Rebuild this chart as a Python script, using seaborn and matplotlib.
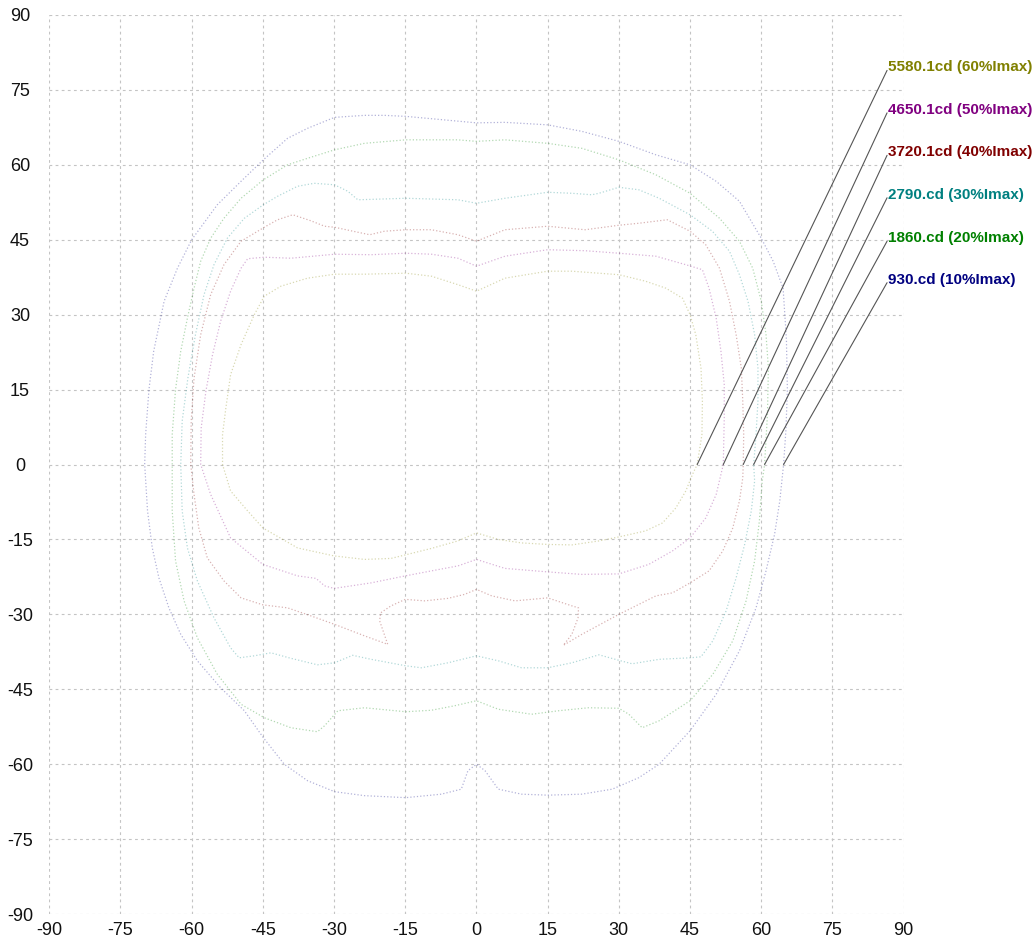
import numpy as np
import pandas as pd
import matplotlib
matplotlib.use('Agg')
import matplotlib.pyplot as plt
import seaborn as sns

# isocandela contours, traced counter-clockwise from the right-hand crossing of y=0
x_60 = [46.5, 47.5, 47.6, 47.3, 46.2, 45.0, 43.4, 39.9, 35.6, 30.0, 20.1, 15.0, 6.0, 0.0,
        -3.9, -9.5, -14.9, -23.6, -29.9, -35.6, -41.2, -44.7, -46.8, -49.6, -51.8, -52.8, -53.5, -53.5,
        -51.8, -48.2, -45.0, -37.7, -30.0, -23.6, -18.0, -15.0, -9.5, -3.9, 0.0,
        4.6, 9.5, 15.0, 20.1, 25.8, 30.0, 35.6, 39.2, 42.0, 44.1, 45.5]
y_60 = [0.0, 6.0, 12.7, 19.3, 26.0, 30.0, 33.3, 35.3, 36.7, 38.0, 38.7, 38.7, 37.3, 34.7,
        36.0, 37.7, 38.3, 38.1, 38.1, 37.3, 35.7, 33.7, 30.0, 24.0, 18.0, 11.3, 6.0, 0.0,
        -5.3, -9.3, -12.7, -16.7, -18.3, -19.0, -18.8, -18.1, -16.8, -15.3, -13.7,
        -15.0, -15.7, -16.0, -16.1, -15.3, -14.5, -13.3, -11.7, -8.7, -5.3, -2.0]

x_50 = [52.0, 52.2, 52.2, 51.5, 50.5, 49.0, 47.6, 44.1, 37.8, 30.0, 22.9, 15.0, 6.0, 0.0,
        -3.9, -9.5, -14.9, -22.2, -29.9, -39.1, -44.7, -48.2, -49.6, -51.8, -53.9, -55.6, -57.0, -58.0, -58.1,
        -56.0, -51.8, -45.0, -37.7, -33.8, -32.0, -30.0, -26.4, -22.2, -15.0, -9.5, -3.9, 0.0,
        6.0, 15.0, 22.2, 30.0, 36.3, 41.3, 45.0, 48.3, 50.5, 51.5]
y_50 = [0.0, 9.3, 16.0, 22.7, 29.3, 35.3, 39.0, 40.0, 41.7, 42.3, 42.8, 43.0, 41.7, 39.7,
        41.3, 42.1, 42.3, 42.0, 42.1, 41.3, 41.5, 41.2, 39.3, 34.7, 28.7, 22.0, 14.7, 7.3, 0.0,
        -6.0, -14.7, -20.0, -22.3, -22.8, -24.3, -24.8, -24.3, -23.7, -22.3, -21.3, -20.3, -19.0,
        -20.8, -21.5, -22.0, -21.9, -20.0, -17.3, -14.7, -10.7, -6.0, -2.0]

x_40 = [56.2, 56.3, 56.1, 55.8, 54.7, 53.3, 51.2, 48.3, 45.0, 40.2, 34.2, 30.0, 22.9, 15.0, 6.0, 0.0,
        -3.9, -9.5, -14.9, -19.4, -22.5, -25.0, -29.9, -32.0, -34.9, -38.7, -41.9, -44.7, -49.6, -53.2,
        -56.0, -58.1, -59.5, -60.1, -60.2,
        -59.5, -58.5, -56.7, -53.2, -49.6, -45.0, -39.8, -34.9, -29.9, -23.6, -18.7, -20.4, -20.2,
        -18.0, -15.0, -10.9, -6.0, -2.5, 0.0,
        3.2, 8.1, 15.0, 20.1, 21.5, 21.4, 20.1, 18.3, 22.2, 30.0, 37.8, 41.3, 45.0, 49.0, 51.9,
        54.0, 55.4, 56.1]
y_40 = [0.0, 6.0, 12.7, 19.3, 26.0, 32.7, 39.3, 44.0, 46.7, 49.0, 48.3, 47.9, 47.0, 47.7, 47.0, 44.7,
        46.0, 47.0, 47.0, 46.7, 46.0, 46.5, 47.5, 47.7, 48.8, 50.0, 49.0, 47.5, 44.7, 40.0,
        34.0, 26.0, 17.3, 8.7, 0.0,
        -6.0, -12.7, -18.7, -23.3, -26.7, -28.1, -28.7, -30.3, -32.0, -34.3, -36.0, -31.3, -29.7,
        -28.3, -27.0, -27.3, -26.8, -26.0, -25.0,
        -26.3, -27.3, -26.7, -28.3, -28.7, -30.7, -34.0, -36.2, -34.0, -30.0, -26.3, -25.7, -23.7, -21.3, -17.3,
        -12.7, -7.3, -2.7]

x_30 = [58.4, 58.9, 59.3, 59.3, 58.6, 57.2, 55.4, 53.3, 49.7, 45.0, 38.5, 34.2, 30.0, 25.8, 24.3, 20.1,
        15.0, 6.0, 0.0,
        -3.9, -14.9, -25.0, -27.1, -29.9, -34.2, -37.7, -41.9, -44.9, -48.9, -52.5, -55.3, -57.4, -59.2,
        -60.8, -62.0, -62.3,
        -62.0, -60.9, -58.8, -55.3, -51.8, -50.0, -46.8, -43.3, -39.1, -33.5, -29.9, -26.1, -22.2, -14.9,
        -11.6, -6.0, 0.0,
        4.6, 9.5, 15.0, 20.1, 25.8, 30.0, 32.8, 38.5, 45.0, 47.3, 49.8, 52.6, 54.7, 56.5, 57.9, 58.6]
y_30 = [0.0, 6.0, 12.7, 19.3, 26.0, 32.7, 38.0, 42.7, 46.7, 50.0, 53.3, 55.0, 55.5, 54.3, 54.0, 54.3,
        54.5, 53.3, 52.3,
        53.0, 53.3, 53.0, 54.7, 56.0, 56.3, 55.7, 53.7, 52.0, 49.3, 45.3, 40.0, 34.0, 26.0,
        17.3, 8.7, 0.0,
        -9.3, -16.7, -23.3, -30.7, -36.7, -38.7, -38.3, -37.7, -38.8, -40.1, -39.7, -38.2, -39.0, -40.3,
        -40.7, -39.7, -38.3,
        -39.3, -40.7, -40.7, -39.7, -38.1, -39.2, -39.9, -39.0, -38.7, -38.5, -35.3, -29.3, -22.7, -16.0, -9.3, -3.3]

x_20 = [60.7, 61.3, 61.5, 61.0, 60.0, 58.2, 55.4, 51.2, 45.0, 37.8, 30.0, 22.2, 15.0, 6.0, 0.0,
        -4.0, -14.9, -23.6, -29.9, -35.6, -39.8, -44.9, -49.6, -53.2, -56.0, -58.1, -59.5, -60.9, -62.3,
        -63.4, -64.1, -64.1,
        -64.1, -63.4, -61.6, -58.8, -54.6, -49.6, -44.7, -39.1, -33.5, -32.0, -29.2, -23.6, -14.9, -9.5,
        -4.6, 0.0,
        4.6, 11.6, 17.3, 23.6, 30.0, 32.1, 34.9, 38.5, 45.0, 49.8, 54.0, 56.8, 58.6, 59.6, 60.2]
y_20 = [0.0, 10.0, 19.3, 26.0, 32.7, 39.3, 44.7, 49.3, 54.3, 58.0, 61.0, 63.3, 64.3, 65.0, 64.7,
        65.0, 65.0, 64.3, 63.0, 61.3, 60.0, 57.0, 53.3, 49.3, 45.3, 40.7, 35.3, 29.3, 22.7,
        15.0, 6.0, 0.0,
        -9.3, -19.3, -27.3, -34.7, -42.0, -48.0, -50.7, -52.7, -53.5, -52.3, -49.3, -48.7, -49.5, -49.2,
        -48.3, -47.3,
        -49.0, -50.0, -49.3, -48.7, -48.8, -50.0, -52.7, -51.3, -47.3, -42.0, -35.3, -27.3, -19.3, -11.3, -3.3]

x_10 = [64.7, 65.2, 65.5, 65.3, 64.6, 62.5, 60.0, 55.4, 50.5, 45.0, 37.8, 30.0, 22.2, 15.0, 6.0, 0.0,
        -14.9, -19.4, -23.6, -29.9, -35.6, -39.8, -44.9, -49.6, -54.6, -60.0, -63.0, -65.8, -68.0, -69.0,
        -69.7, -69.9,
        -69.3, -68.3, -66.9, -64.8, -62.3, -58.8, -53.9, -48.9, -44.9, -40.5, -35.6, -29.9, -23.6, -14.9,
        -7.4, -3.2, -1.8, 0.0,
        1.8, 4.6, 9.5, 15.0, 22.2, 28.6, 34.2, 38.5, 45.0, 50.5, 55.4, 58.9, 61.0, 62.8, 63.9]
y_10 = [0.0, 7.0, 15.0, 25.0, 35.3, 40.7, 45.3, 52.7, 56.7, 60.0, 62.0, 64.7, 66.7, 68.0, 68.5, 68.4,
        69.7, 69.9, 69.9, 69.5, 67.3, 65.3, 61.0, 56.7, 52.0, 45.0, 39.3, 32.7, 22.7, 15.0,
        6.0, 0.0,
        -9.3, -16.7, -22.7, -28.7, -34.0, -39.3, -44.7, -49.3, -54.7, -60.0, -63.3, -65.5, -66.3, -66.7,
        -66.0, -65.0, -61.3, -60.0,
        -61.3, -65.0, -66.0, -66.2, -66.0, -65.0, -62.7, -60.0, -53.3, -46.0, -37.3, -28.7, -21.3, -14.0, -7.3]

levels = ['5580.1cd (60%Imax)', '4650.1cd (50%Imax)', '3720.1cd (40%Imax)',
          '2790.cd (30%Imax)', '1860.cd (20%Imax)', '930.cd (10%Imax)']
colors = ['#808000', '#800080', '#800000', '#008080', '#008000', '#000080']
contours_x = [x_60, x_50, x_40, x_30, x_20, x_10]
contours_y = [y_60, y_50, y_40, y_30, y_20, y_10]
label_y = [79.5, 71.0, 62.5, 54.0, 45.3, 37.0]
ticks = list(range(-90, 91, 15))

# long table, each contour closed back on its first point
frames = []
for lev, xs, ys in zip(levels, contours_x, contours_y):
    frames.append(pd.DataFrame({'x': xs + xs[:1], 'y': ys + ys[:1], 'level': lev}))
df = pd.concat(frames, ignore_index=True)

sns.set_style('white')
plt.rcParams['font.family'] = ['Liberation Sans', 'DejaVu Sans']
plt.rcParams['axes.unicode_minus'] = False

fig = plt.figure(figsize=(10.33, 9.47), dpi=100)
ax = fig.add_axes([0.0477, 0.0348, 0.8271, 0.9494])

sns.lineplot(data=df, x='x', y='y', hue='level', palette=dict(zip(levels, colors)),
             sort=False, estimator=None, linestyle=':', linewidth=0.9, alpha=0.3,
             legend=False, ax=ax)

# leader lines and labels
for lev, col, xs, ly in zip(levels, colors, contours_x, label_y):
    ax.plot([xs[0], 86.5], [0, ly - 0.6], color='#555555', linewidth=0.8, clip_on=False)
    ax.text(86.6, ly, lev, color=col, fontsize=11, fontweight='bold',
            ha='left', va='center', clip_on=False)

ax.set_xlim(-90, 90)
ax.set_ylim(-90, 90)
ax.set_xticks(ticks)
ax.set_yticks(ticks)
ax.set_xlabel('')
ax.set_ylabel('')
ax.grid(True, linestyle=(0, (2.5, 3)), color='#c4c4c4', linewidth=0.8)
for s in ax.spines.values():
    s.set_visible(False)
ax.tick_params(axis='both', length=0, labelsize=13, colors='#111111')
ax.tick_params(axis='x', pad=6)
ax.tick_params(axis='y', pad=21)
for lab in ax.get_yticklabels():
    lab.set_horizontalalignment('center')

fig.savefig('out.png', dpi=100)
